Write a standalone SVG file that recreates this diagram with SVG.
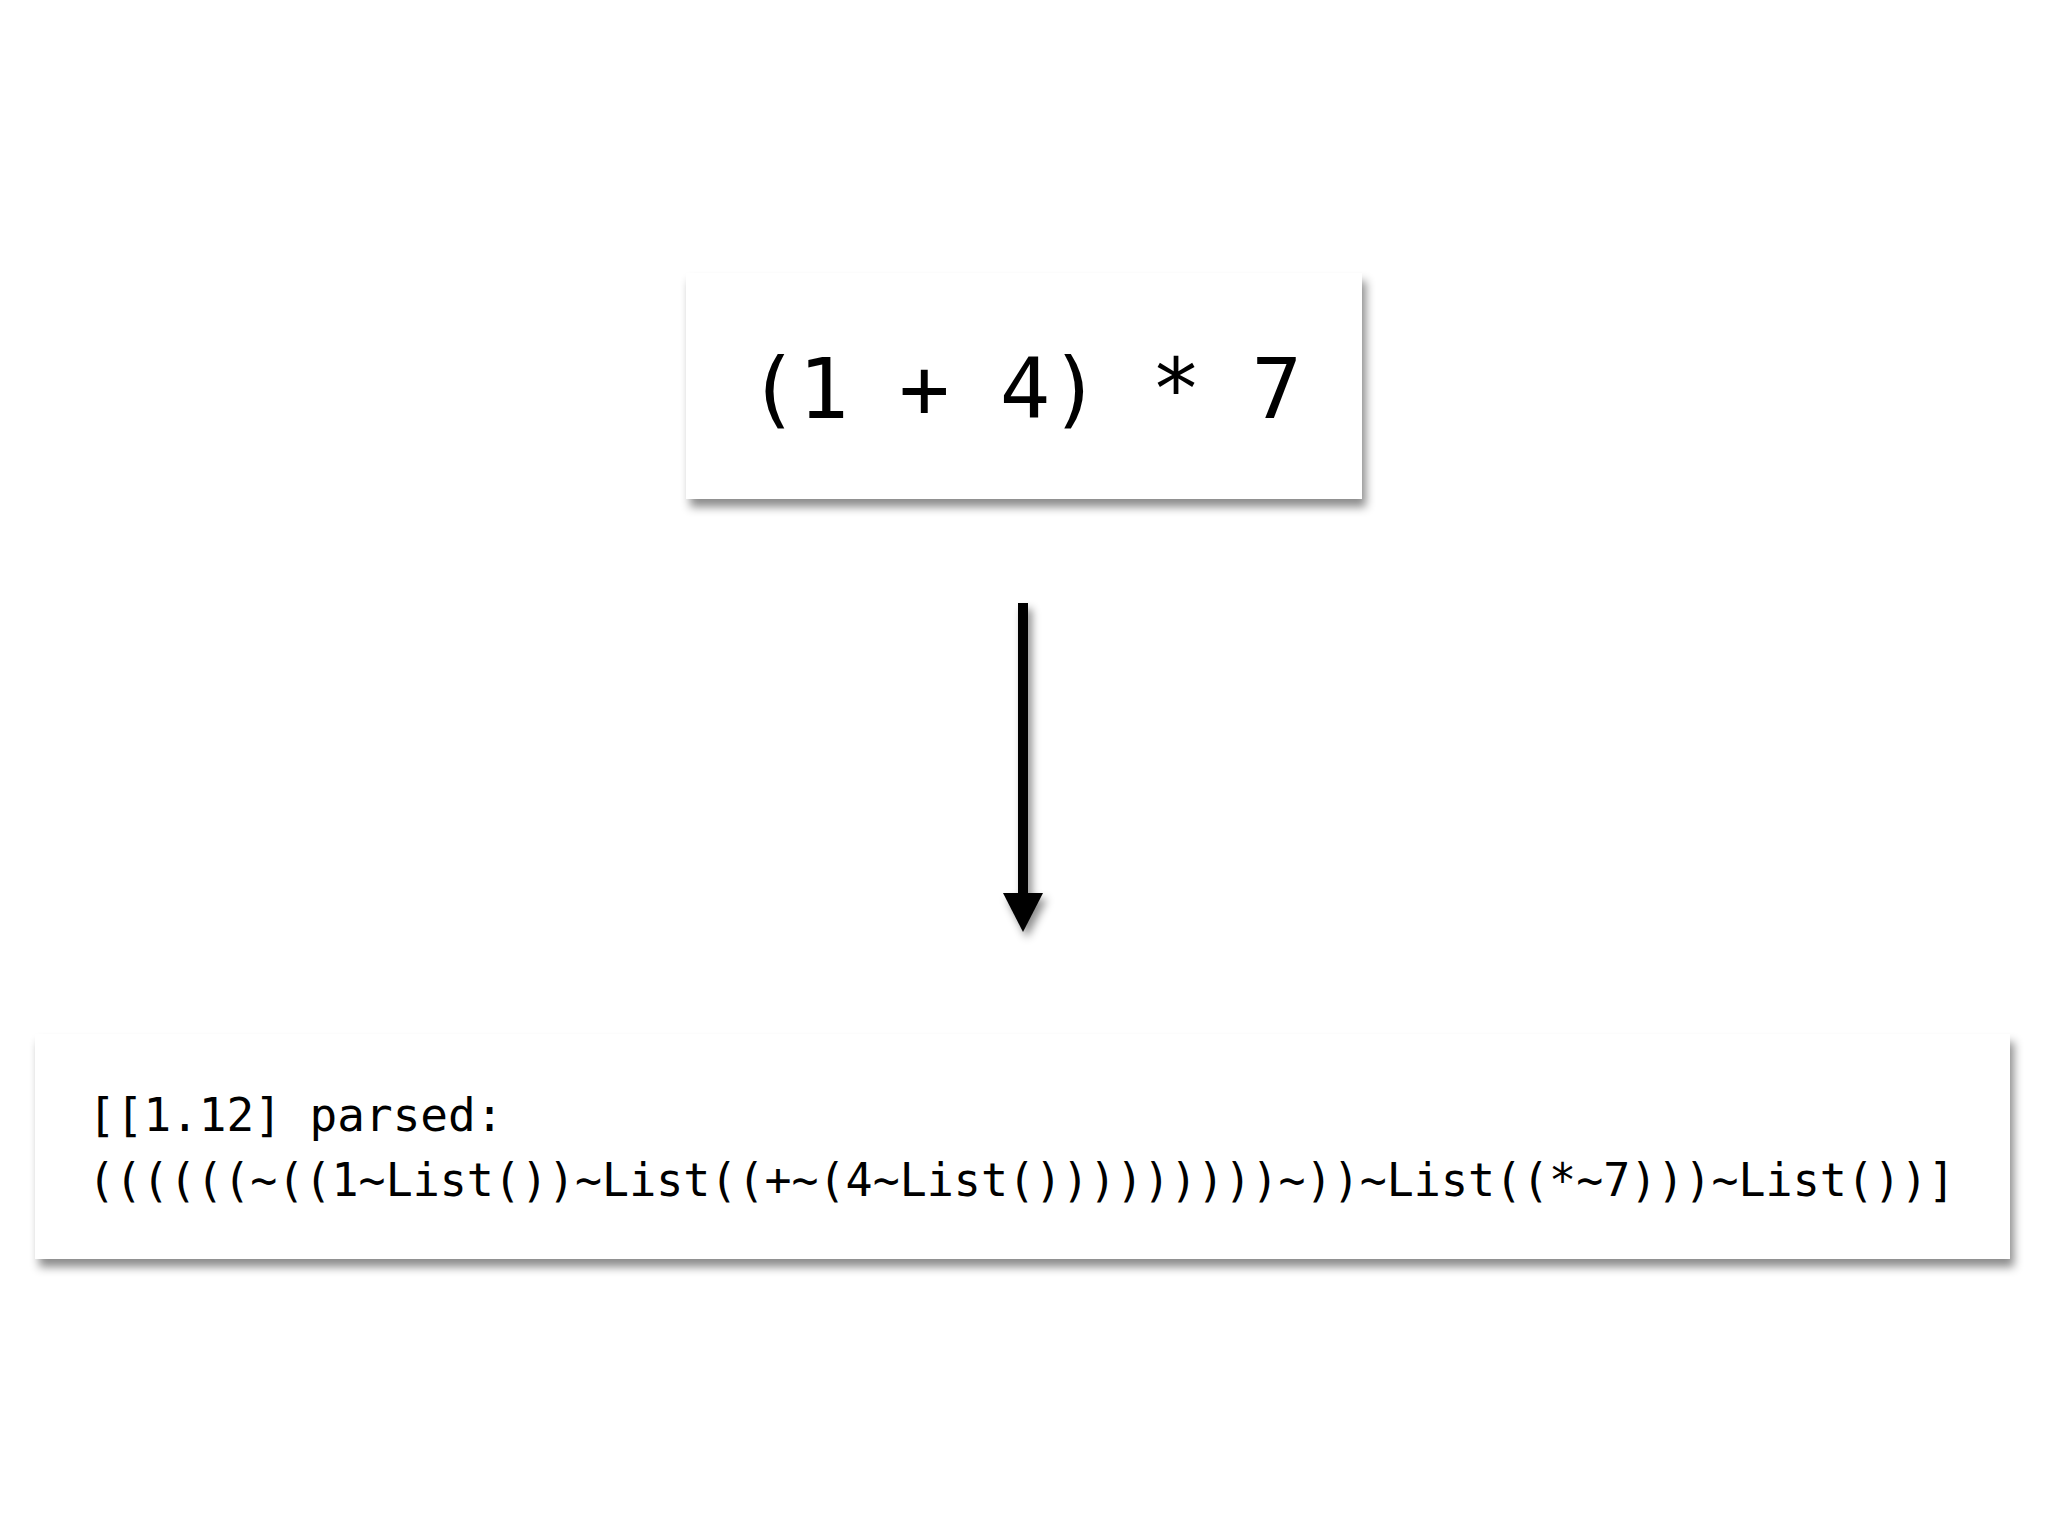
<svg xmlns="http://www.w3.org/2000/svg" width="2048" height="1536" viewBox="0 0 2048 1536">
<style>
.box{fill:#fff;filter:url(#sh)}
.mono{font-family:"DejaVu Sans Mono","Liberation Mono",monospace;fill:#000}
</style>
<defs>
<filter id="sh" x="-10%" y="-20%" width="130%" height="150%">
<feDropShadow dx="4" dy="8" stdDeviation="5" flood-color="#000" flood-opacity="0.45"/>
</filter>
<filter id="sh2" x="-5" y="-0.1" width="11" height="1.2">
<feDropShadow dx="4" dy="6" stdDeviation="4" flood-color="#000" flood-opacity="0.45"/>
</filter>
</defs>
<rect width="2048" height="1536" fill="#fff"/>
<g id="input">
<rect class="box" x="686" y="273" width="676" height="226"/>
<text class="mono" x="748" y="418" font-size="84" textLength="554" lengthAdjust="spacing">(1 + 4) * 7</text>
</g>
<g id="connectors" filter="url(#sh2)">
<rect x="1018" y="603" width="10" height="295" fill="#000"/>
<path d="M1003,893 L1043,893 L1023,932 Z" fill="#000"/>
</g>
<g id="output">
<rect class="box" x="35" y="1034" width="1975" height="225"/>
<text class="mono" x="88" y="1131" font-size="46">[[1.12] parsed:</text>
<text class="mono" x="88" y="1196" font-size="46" textLength="1867" lengthAdjust="spacingAndGlyphs">((((((~((1~List())~List((+~(4~List()))))))))~))~List((*~7)))~List())]</text>
</g>
</svg>
